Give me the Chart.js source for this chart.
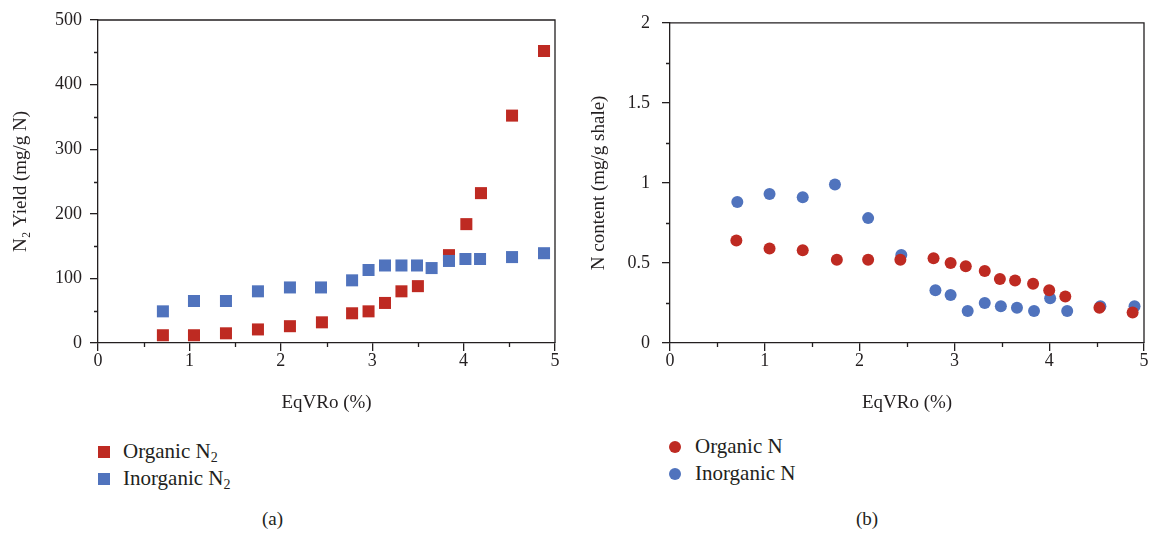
<!DOCTYPE html>
<html>
<head>
<meta charset="utf-8">
<script src="https://cdn.jsdelivr.net/npm/chart.js@4/dist/chart.umd.min.js"></script>
<style>
  body { margin: 0; background: #fff; width: 1150px; height: 533px; overflow: hidden; position: relative;
         font-family: 'Liberation Serif', 'DejaVu Serif', serif; color: #231f20; }
  .panel { position: absolute; top: 0; width: 575px; height: 420px; }
  .legend { position: absolute; font-size: 21px; line-height: 27px; }
  .legend div { position: relative; white-space: nowrap; }
  .mk { position: absolute; }
  .cap { position: absolute; top: 508px; font-size: 19px; }
  sub { font-size: 14px; vertical-align: -4px; line-height: 0; }
</style>
</head>
<body>
<div class="panel" style="left:0"><canvas id="chartA" width="575" height="420"></canvas></div>
<div class="panel" style="left:575px"><canvas id="chartB" width="575" height="420"></canvas></div>

<div class="legend" id="legA" style="left:98px; top:438px"></div>
<div class="legend" id="legB" style="left:669px; top:433px"></div>
<div class="cap" style="left:262px">(a)</div>
<div class="cap" style="left:856px">(b)</div>

<script>
const RED = '#be2a22'
const BLUE = '#5073bd'
const AXIS = '#231f20'
const FONT = "'Liberation Serif', 'DejaVu Serif', serif"

// (a) N2 yield
const orgN2X = [0.71, 1.05, 1.40, 1.75, 2.10, 2.45, 2.78, 2.96, 3.14, 3.32, 3.50, 3.84, 4.03, 4.19, 4.53, 4.88]
const orgN2 = [12, 12, 15, 21, 26, 32, 46, 49, 62, 80, 88, 136, 184, 232, 352, 452]
const inorgN2X = [0.71, 1.05, 1.40, 1.75, 2.10, 2.44, 2.78, 2.96, 3.14, 3.32, 3.49, 3.65, 3.84, 4.02, 4.18, 4.53, 4.88]
const inorgN2 = [49, 65, 65, 80, 86, 86, 97, 113, 120, 120, 120, 116, 127, 130, 130, 133, 139]

// (b) N content
const orgNX = [0.70, 1.05, 1.40, 1.76, 2.09, 2.43, 2.78, 2.96, 3.12, 3.32, 3.48, 3.64, 3.83, 4.00, 4.17, 4.53, 4.88]
const orgN = [0.64, 0.59, 0.58, 0.52, 0.52, 0.52, 0.53, 0.50, 0.48, 0.45, 0.40, 0.39, 0.37, 0.33, 0.29, 0.22, 0.19]
const inorgNX = [0.71, 1.05, 1.40, 1.74, 2.09, 2.44, 2.80, 2.96, 3.14, 3.32, 3.49, 3.66, 3.84, 4.01, 4.19, 4.54, 4.90]
const inorgN = [0.88, 0.93, 0.91, 0.99, 0.78, 0.55, 0.33, 0.30, 0.20, 0.25, 0.23, 0.22, 0.20, 0.28, 0.20, 0.23, 0.23]

const xTicks = [0, 1, 2, 3, 4, 5]
const yTicksA = [0, 100, 200, 300, 400, 500]
const yTicksB = [0, 0.5, 1, 1.5, 2]

const pts = (xs, ys) => xs.map((x, i) => ({ x, y: ys[i] }))

// frame on top/right + short minor ticks between the major ones
const framePlugin = {
  id: 'frame',
  afterDraw(chart, args, opts) {
    const { ctx, chartArea: a, scales: { x, y } } = chart
    ctx.save()
    ctx.strokeStyle = AXIS
    ctx.lineWidth = 1.3
    ctx.beginPath()
    ctx.moveTo(a.left, a.top); ctx.lineTo(a.right, a.top); ctx.lineTo(a.right, a.bottom)
    for (let v = x.min + opts.xMinor; v < x.max; v += opts.xMinor * 2) {
      const px = Math.round(x.getPixelForValue(v)) + 0.5
      ctx.moveTo(px, a.bottom); ctx.lineTo(px, a.bottom + 4)
    }
    for (let v = y.min + opts.yMinor; v < y.max; v += opts.yMinor * 2) {
      const py = Math.round(y.getPixelForValue(v)) + 0.5
      ctx.moveTo(a.left, py); ctx.lineTo(a.left - 4, py)
    }
    ctx.stroke()
    ctx.restore()
  }
}

const makeScales = (o) => ({
  x: {
    type: 'linear', min: 0, max: 5,
    afterBuildTicks: s => { s.ticks = xTicks.map(v => ({ value: v })) },
    afterFit: s => { s.height = 77 },
    border: { display: true, color: AXIS, width: 1.3 },
    grid: { drawOnChartArea: false, drawTicks: true, tickLength: 8, color: AXIS, lineWidth: 1.3 },
    ticks: { color: AXIS, padding: -1, font: { family: FONT, size: 18 } },
    title: { display: true, text: 'EqVRo (%)', color: AXIS, padding: { top: 0, bottom: 6 }, font: { family: FONT, size: 19 } }
  },
  y: {
    type: 'linear', min: 0, max: o.yMax,
    afterBuildTicks: s => { s.ticks = o.yTicks.map(v => ({ value: v })) },
    afterFit: s => { s.width = o.yWidth },
    border: { display: true, color: AXIS, width: 1.3 },
    grid: { drawOnChartArea: false, drawTicks: true, tickLength: 8, color: AXIS, lineWidth: 1.3 },
    ticks: { color: AXIS, padding: o.tickPad, callback: v => String(v), font: { family: FONT, size: 18 } },
    title: { display: true, text: o.title, color: AXIS, padding: { top: o.titlePad, bottom: 0 }, font: { family: FONT, size: 19 } }
  }
})

const baseOpts = (o) => ({
  responsive: false,
  animation: false,
  devicePixelRatio: 1,
  layout: { padding: { top: 20, right: o.padRight, bottom: 0, left: 0 } },
  plugins: { legend: { display: false }, tooltip: { enabled: false }, frame: { xMinor: 0.5, yMinor: o.yMinor } },
  scales: makeScales(o)
})

const chartA = new Chart(document.getElementById('chartA'), {
  type: 'scatter',
  data: {
    datasets: [
      { label: 'Organic N₂', data: pts(orgN2X, orgN2), pointStyle: 'rect', pointRadius: 8.5,
        backgroundColor: RED, borderWidth: 0, order: 2 },
      { label: 'Inorganic N₂', data: pts(inorgN2X, inorgN2), pointStyle: 'rect', pointRadius: 8.5,
        backgroundColor: BLUE, borderWidth: 0, order: 1 }
    ]
  },
  options: baseOpts({ yMax: 500, yTicks: yTicksA, yWidth: 98, tickPad: 8, title: 'N₂ Yield (mg/g N)',
    titlePad: 10, padRight: 20, yMinor: 50 }),
  plugins: [framePlugin]
})

const chartB = new Chart(document.getElementById('chartB'), {
  type: 'scatter',
  data: {
    datasets: [
      { label: 'Organic N', data: pts(orgNX, orgN), pointStyle: 'circle', pointRadius: 6,
        backgroundColor: RED, borderWidth: 0, order: 1 },
      { label: 'Inorganic N', data: pts(inorgNX, inorgN), pointStyle: 'circle', pointRadius: 6,
        backgroundColor: BLUE, borderWidth: 0, order: 2 }
    ]
  },
  options: baseOpts({ yMax: 2, yTicks: yTicksB, yWidth: 95, tickPad: 12, title: 'N content (mg/g shale)',
    titlePad: 13, padRight: 5, yMinor: 0.25 }),
  plugins: [framePlugin]
})

// html legends built from the datasets
const renderLegend = (chart, el, square) => {
  el.innerHTML = chart.data.datasets.map(ds => {
    const txt = ds.label.replace('₂', '<sub>2</sub>')
    const mk = square
      ? `<span class="mk" style="left:0;top:8px;width:12px;height:12px;background:${ds.backgroundColor}"></span>`
      : `<span class="mk" style="left:0;top:8px;width:12px;height:12px;border-radius:50%;background:${ds.backgroundColor}"></span>`
    return `<div>${mk}<span style="margin-left:${square ? 25 : 26}px">${txt}</span></div>`
  }).join('')
}
renderLegend(chartA, document.getElementById('legA'), true)
renderLegend(chartB, document.getElementById('legB'), false)
</script>
</body>
</html>
